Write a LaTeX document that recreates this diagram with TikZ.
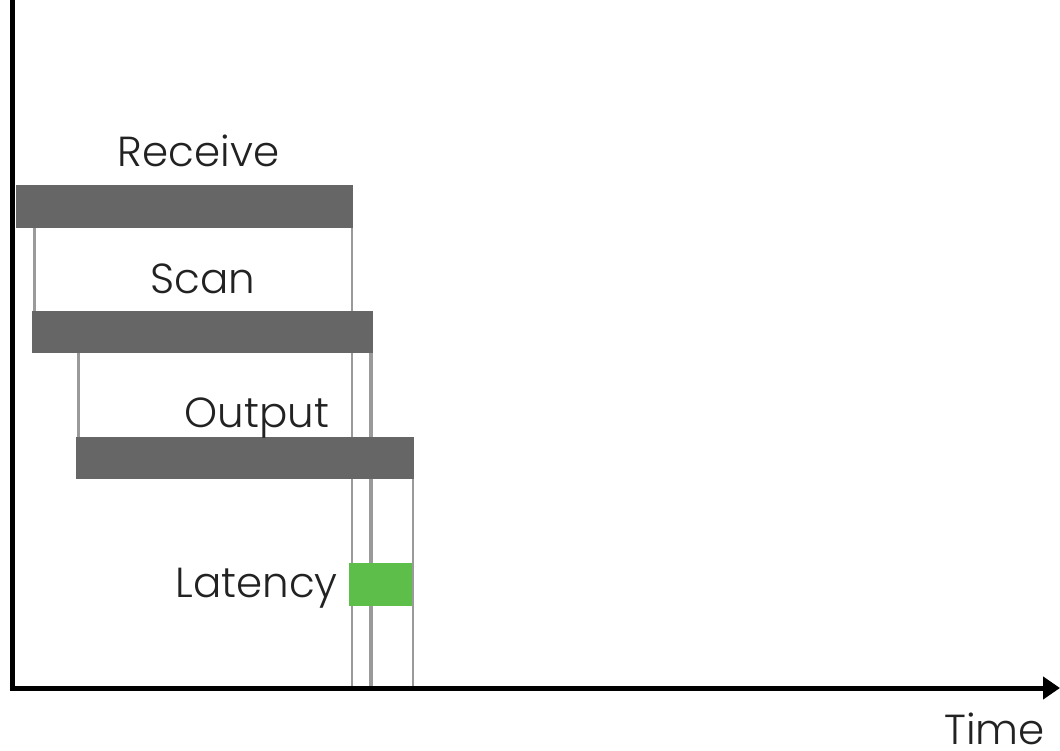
\documentclass[tikz,border=0pt]{standalone}
\usepackage{fontspec}
\setmainfont{Poppins}[UprightFont=* Light]
\usetikzlibrary{arrows.meta,calc}
\definecolor{barc}{HTML}{666666}
\definecolor{linec}{HTML}{9A9A9A}
\definecolor{greenc}{HTML}{5DBF49}
\definecolor{textc}{HTML}{222222}
\tikzset{
  bar/.style={fill=barc, inner sep=0pt, anchor=north west},
  gline/.style={draw=linec, line width=2.7pt},
  lbl/.style={inner sep=0pt, text=textc, font=\fontsize{42}{46}\selectfont},
  axis/.style={draw=black, line width=5pt}
}
\begin{document}
\begin{tikzpicture}[x=1pt,y=-1pt]
\useasboundingbox (0,0) rectangle (1060,751);
\fill[white] (0,0) rectangle (1060,751);
% axes
\coordinate (top) at (12.5,0);
\coordinate (origin) at (12.5,688);
\coordinate (xend) at (1060,688);
% bars as nodes (positions)
\path
  node[bar, minimum width=337pt, minimum height=43pt] (receive) at (16,185) {}
  node[bar, minimum width=341pt, minimum height=42pt] (scan) at (32,311) {}
  node[bar, minimum width=338pt, minimum height=42pt] (output) at (76,437) {};
% grey guide lines (behind bars)
\draw[gline, line width=3.2pt] ([xshift=2.5pt]scan.north west) -- ([xshift=2.5pt]scan.north west |- receive.south);
\draw[gline] ([xshift=2.5pt]output.north west) -- ([xshift=2.5pt]output.north west |- scan.south);
\draw[gline] ([xshift=-1.5pt]receive.south east) -- ([xshift=-1.5pt]receive.south east |- origin);
\draw[gline, line width=3.8pt] ([xshift=-2.5pt]scan.south east) -- ([xshift=-2.5pt]scan.south east |- origin);
\draw[gline] ([xshift=-1.5pt]output.south east) -- ([xshift=-1.5pt]output.south east |- origin);
% redraw bars on top
\path
  node[bar, minimum width=337pt, minimum height=43pt] at (16,185) {}
  node[bar, minimum width=341pt, minimum height=42pt] at (32,311) {}
  node[bar, minimum width=338pt, minimum height=42pt] at (76,437) {};
% latency box
\node[fill=greenc, inner sep=0pt, minimum width=63pt, minimum height=43pt, anchor=north west] (latency) at (349,563) {};
% axes
\draw[axis] (top) -- (origin);
\draw[axis, -{Triangle[length=17pt,width=22pt]}] ([xshift=-2.5pt]origin) -- (xend);
% labels
\node[lbl, anchor=base] (lrec) at (198.5,167) {Receive};
\node[lbl, anchor=base] (lscan) at (203,294) {Scan};
\node[lbl, anchor=base] (lout) at (257,427) {Output};
\node[lbl, anchor=base east] (llat) at (338,597) {Latency};
\node[lbl, anchor=base east, text depth=0pt] (ltime) at (1045,744) {Time};
\end{tikzpicture}
\end{document}
